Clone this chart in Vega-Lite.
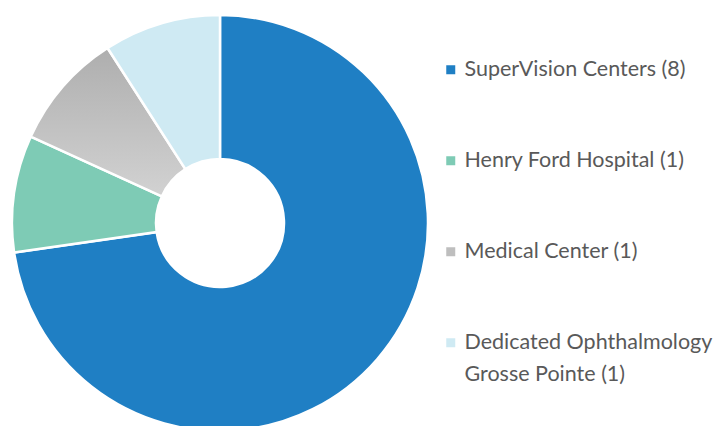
{
  "$schema": "https://vega.github.io/schema/vega-lite/v6.json",
  "width": 440,
  "height": 446,
  "autosize": "none",
  "padding": {"left": 0, "top": 0, "right": 280, "bottom": 0},
  "background": "white",
  "view": {"stroke": null},
  "data": {
    "values": [
      {"name": "SuperVision Centers (8)", "count": 8, "ord": 1},
      {"name": "Henry Ford Hospital (1)", "count": 1, "ord": 2},
      {"name": "Medical Center (1)", "count": 1, "ord": 3},
      {"name": "Dedicated Ophthalmology Grosse Pointe (1)", "count": 1, "ord": 4}
    ]
  },
  "mark": {"type": "arc", "innerRadius": 64, "outerRadius": 208, "stroke": "white", "strokeWidth": 2.5},
  "encoding": {
    "theta": {"field": "count", "type": "quantitative", "stack": true},
    "order": {"field": "ord", "type": "quantitative"},
    "color": {
      "condition": {
        "test": "datum.ord === 3",
        "value": {"gradient": "linear", "x1": 0, "y1": 0, "x2": 0, "y2": 1, "stops": [{"offset": 0, "color": "#aeaeae"}, {"offset": 1, "color": "#d2d2d2"}]}
      },
      "field": "name",
      "type": "nominal",
      "scale": {
        "domain": ["SuperVision Centers (8)", "Henry Ford Hospital (1)", "Medical Center (1)", "Dedicated Ophthalmology Grosse Pointe (1)"],
        "range": ["#1F7FC4", "#7ECBB5", "#BEBEBE", "#CFEAF3"]
      },
      "legend": {
        "title": null,
        "orient": "none",
        "legendX": 440,
        "legendY": 59,
        "symbolType": "square",
        "symbolSize": 81,
        "symbolStrokeWidth": 0,
        "labelFont": "Lato",
        "labelFontSize": 21.5,
        "labelColor": "#595959",
        "labelOffset": 3,
        "labelLimit": 400,
        "rowPadding": 68,
        "labelExpr": "datum.label == 'Dedicated Ophthalmology Grosse Pointe (1)' ? ['Dedicated Ophthalmology', 'Grosse Pointe (1)'] : datum.label",
        "encoding": {"labels": {"lineHeight": {"value": 32}}}
      }
    }
  }
}
